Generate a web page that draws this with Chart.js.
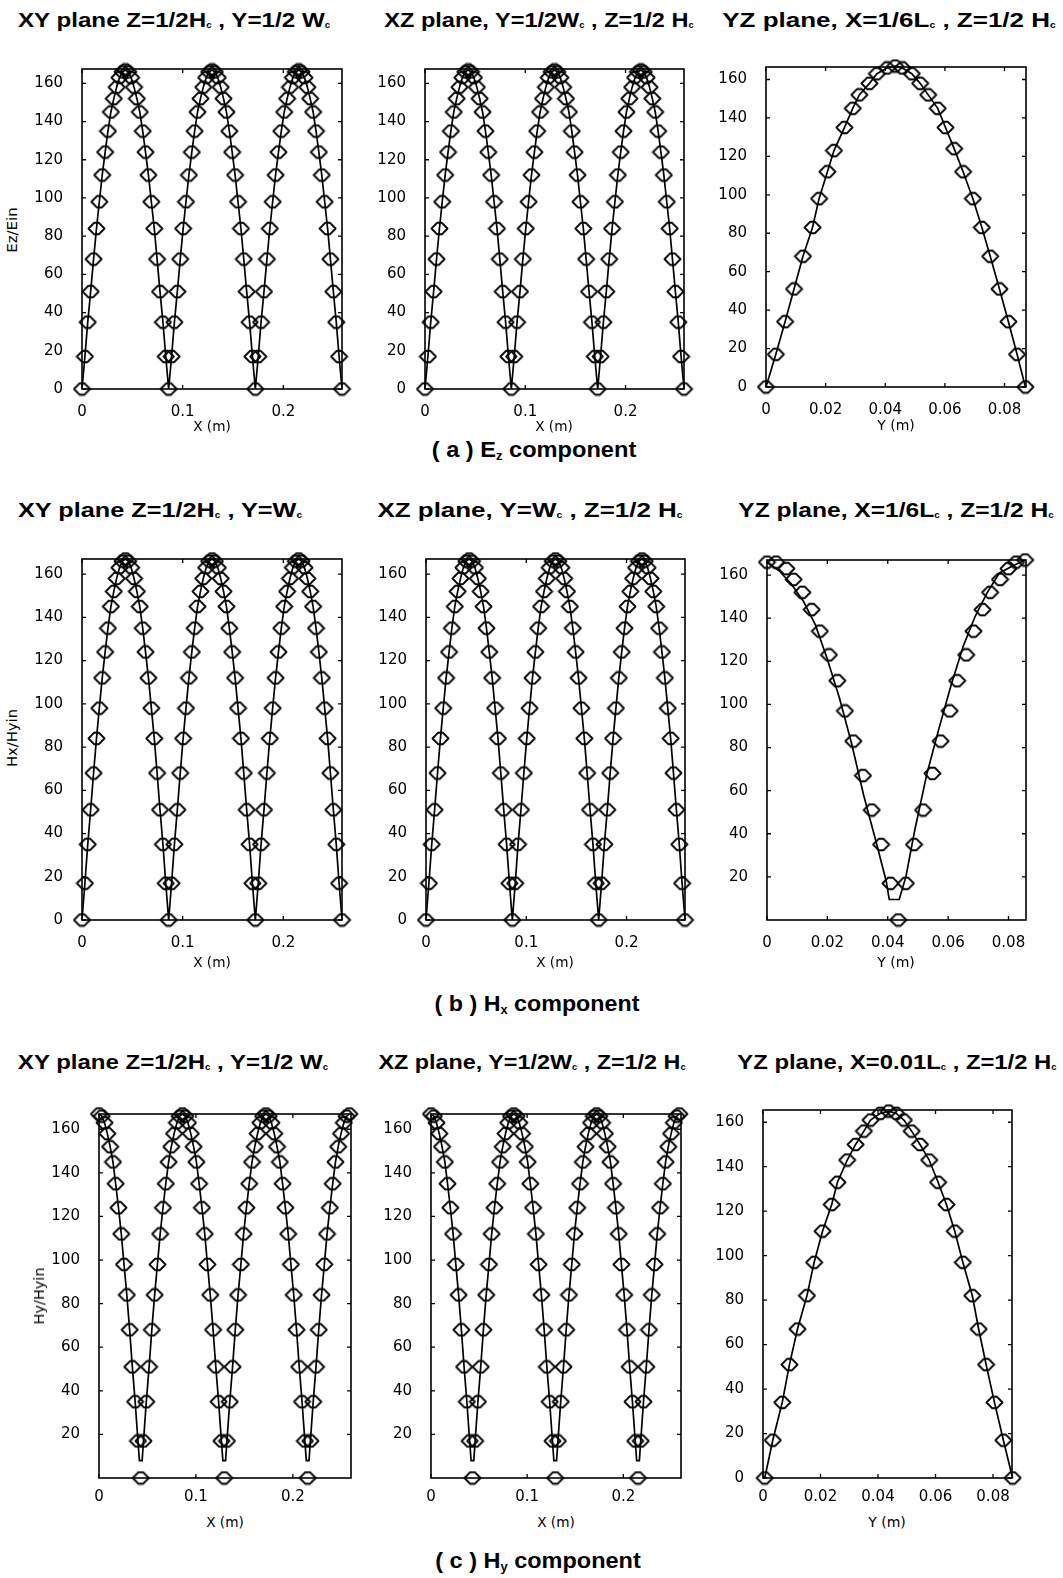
<!DOCTYPE html>
<html>
<head>
<meta charset="utf-8">
<title>Field component profiles</title>
<script src="https://cdn.jsdelivr.net/npm/chart.js@4.4.1/dist/chart.umd.min.js"></script>
<style>
  body { margin: 0; background: #fff; }
  #page { position: relative; width: 1063px; height: 1578px; overflow: hidden; background: #fff; }
  #page canvas { position: absolute; }
  .txt { position: absolute; white-space: nowrap; color: #000; line-height: 1; }
  .ttl { font: bold 21px "Liberation Sans", Arial, sans-serif; }
  .ttl sub { font-size: 40%; vertical-align: -0.15em; }
  .cap { font: bold 22px "Liberation Sans", Arial, sans-serif; }
  .cap sub { font-size: 55%; vertical-align: -0.3em; }
  .ax { font: 14px "DejaVu Sans", sans-serif; }
</style>
</head>
<body>
<div id="page"></div>
<script>
// Values (x in metres, y = normalised field)

// sample positions along X for the three-lobe XY / XZ profiles
const xGrid = [0,0.0029,0.0057,0.0086,0.0115,0.0144,0.0172,0.0201,0.0230,0.0258,
  0.0287,0.0316,0.0344,0.0373,0.0402,0.0431,0.0459,0.0488,0.0517,0.0545,
  0.0574,0.0603,0.0631,0.0660,0.0689,0.0718,0.0746,0.0775,0.0804,0.0832,
  0.0861,0.0890,0.0918,0.0947,0.0976,0.1005,0.1033,0.1062,0.1091,0.1119,
  0.1148,0.1177,0.1205,0.1234,0.1263,0.1292,0.1320,0.1349,0.1378,0.1406,
  0.1435,0.1464,0.1492,0.1521,0.1550,0.1579,0.1607,0.1636,0.1665,0.1693,
  0.1722,0.1751,0.1779,0.1808,0.1837,0.1866,0.1894,0.1923,0.1952,0.1980,
  0.2009,0.2038,0.2066,0.2095,0.2124,0.2153,0.2181,0.2210,0.2239,0.2267,
  0.2296,0.2325,0.2353,0.2382,0.2411,0.2440,0.2468,0.2497,0.2526,0.2554,0.2583];

// Ez and Hx along X (rows a and b, first two columns)
const ezY = [0,17,35,51,68,84,98,112,124,135,145,152,158,163,166,167,
  166,163,158,152,145,135,124,112,98,84,68,51,35,17,0,
  17,35,51,68,84,98,112,124,135,145,152,158,163,166,167,
  166,163,158,152,145,135,124,112,98,84,68,51,35,17,0,
  17,35,51,68,84,98,112,124,135,145,152,158,163,166,167,
  166,163,158,152,145,135,124,112,98,84,68,51,35,17,0];

// Hy along X, markers (row c, first two columns)
const hyY = [167,166,163,158,152,145,135,124,112,98,84,68,51,35,17,0,
  17,35,51,68,84,98,112,124,135,145,152,158,163,166,167,
  166,163,158,152,145,135,124,112,98,84,68,51,35,17,0,
  17,35,51,68,84,98,112,124,135,145,152,158,163,166,167,
  166,163,158,152,145,135,124,112,98,84,68,51,35,17,0,
  17,35,51,68,84,98,112,124,135,145,152,158,163,166,167];

// Hy along X, solid curve (flat floor near 8 at each minimum)
const hyLineX = [0,0.0029,0.0057,0.0086,0.0115,0.0144,0.0172,0.0201,0.0230,0.0258,
  0.0287,0.0316,0.0344,0.0373,0.0402,0.0417,0.0445,
  0.0459,0.0488,0.0517,0.0545,0.0574,0.0603,0.0631,0.0660,0.0689,0.0718,
  0.0746,0.0775,0.0804,0.0832,0.0861,0.0890,0.0918,0.0947,0.0976,0.1005,
  0.1033,0.1062,0.1091,0.1119,0.1148,0.1177,0.1205,0.1234,0.1263,0.1278,0.1306,
  0.1320,0.1349,0.1378,0.1406,0.1435,0.1464,0.1492,0.1521,0.1550,0.1579,
  0.1607,0.1636,0.1665,0.1693,0.1722,0.1751,0.1779,0.1808,0.1837,0.1866,
  0.1894,0.1923,0.1952,0.1980,0.2009,0.2038,0.2066,0.2095,0.2124,0.2139,0.2167,
  0.2181,0.2210,0.2239,0.2267,0.2296,0.2325,0.2353,0.2382,0.2411,0.2440,
  0.2468,0.2497,0.2526,0.2554,0.2583];
const hyLineY = [167,166,163,158,152,145,135,124,112,98,84,68,51,35,17,8,8,
  17,35,51,68,84,98,112,124,135,145,152,158,163,166,167,
  166,163,158,152,145,135,124,112,98,84,68,51,35,17,8,8,
  17,35,51,68,84,98,112,124,135,145,152,158,163,166,167,
  166,163,158,152,145,135,124,112,98,84,68,51,35,17,8,8,
  17,35,51,68,84,98,112,124,135,145,152,158,163,166,167];

// Ez across Y (row a, third column)
const ezYzX = [0,0.0033,0.0064,0.0094,0.0124,0.0156,0.0178,0.0206,0.0228,0.0263,
  0.0291,0.0313,0.0347,0.0372,0.0406,0.0433,0.0458,0.0489,0.0517,0.0544,
  0.0576,0.0602,0.0631,0.0661,0.0694,0.0724,0.0752,0.0783,0.0813,0.0842,0.0870];
const ezYzY = [0,17,34,51,68,83,98,112,123,135,145,152,158,163,166,167,
  166,163,158,152,145,135,124,112,98,83,68,51,34,17,0];

// Hx across Y (row b, third column): markers and solid curve
const hxYzX = [0,0.0030,0.0064,0.0088,0.0117,0.0148,0.0175,0.0205,0.0233,0.0258,
  0.0286,0.0318,0.0347,0.0378,0.0409,0.0435,0.0460,0.0487,0.0517,0.0548,
  0.0575,0.0605,0.0630,0.0660,0.0684,0.0714,0.0739,0.0772,0.0800,0.0825,0.0855];
const hxYzY = [166,166,163,158,152,144,134,123,111,97,83,67,51,35,17,0,
  17,35,51,68,83,97,111,123,134,144,152,158,163,166,167];
const hxYzLineX = [0,0.004,0.008,0.012,0.016,0.020,0.024,0.028,0.032,0.036,0.0395,0.0405,
  0.0438,0.046,0.049,0.053,0.057,0.061,0.065,0.069,0.073,0.077,0.081,0.0855];
const hxYzLineY = [166,162,156,148,137,121,103,82,58,37,18,9.5,
  9.5,20,42,68,89,109,127,141,152,161,164,167];

// Hy across Y (row c, third column)
const hyYzX = [0.0006,0.0034,0.0067,0.0092,0.0120,0.0153,0.0178,0.0207,0.0239,0.0259,
  0.0293,0.0322,0.0351,0.0374,0.0408,0.0437,0.0463,0.0490,0.0517,0.0546,
  0.0578,0.0609,0.0638,0.0667,0.0695,0.0728,0.0750,0.0776,0.0805,0.0836,0.0868];
const hyYzY = [0,17,34,51,67,82,97,111,123,133,143,150,156,161,164,165,
  164,161,156,150,143,133,123,111,97,82,67,51,34,17,0];

// tick labels
const xTicksLong = [0, 0.1, 0.2];
const xTicksShort = [0, 0.02, 0.04, 0.06, 0.08];
const yTicksAll = [0, 20, 40, 60, 80, 100, 120, 140, 160];
const yTicksNoZero = [20, 40, 60, 80, 100, 120, 140, 160];

// panel layout: plot box in page pixels [left, top, right, bottom], gap under x axis to labels
const panels = [
  { box: [82, 63, 342, 389],   xMax: 0.2583, yMax: 167.5, gap: 6, xt: xTicksLong,  yt: yTicksAll,    line: [xGrid, ezY],   marks: [xGrid, ezY] },
  { box: [425, 63, 684, 389],  xMax: 0.2583, yMax: 167.5, gap: 6, xt: xTicksLong,  yt: yTicksAll,    line: [xGrid, ezY],   marks: [xGrid, ezY] },
  { box: [766, 61, 1026, 387], xMax: 0.0872, yMax: 166.5, gap: 6, xt: xTicksShort, yt: yTicksAll,    line: [ezYzX, ezYzY], marks: [ezYzX, ezYzY] },
  { box: [82, 553, 342, 920],  xMax: 0.2583, yMax: 167,   gap: 6, xt: xTicksLong,  yt: yTicksAll,    line: [xGrid, ezY],   marks: [xGrid, ezY] },
  { box: [426, 553, 685, 920], xMax: 0.2583, yMax: 167,   gap: 6, xt: xTicksLong,  yt: yTicksAll,    line: [xGrid, ezY],   marks: [xGrid, ezY] },
  { box: [767, 554, 1026, 920],xMax: 0.0858, yMax: 167,   gap: 6, xt: xTicksShort, yt: yTicksNoZero, line: [hxYzLineX, hxYzLineY], marks: [hxYzX, hxYzY] },
  { box: [99, 1108, 351, 1478],  xMax: 0.26, yMax: 167,   gap: 2, xt: xTicksLong,  yt: yTicksNoZero, line: [hyLineX, hyLineY], marks: [xGrid, hyY] },
  { box: [431, 1108, 681, 1478], xMax: 0.26, yMax: 167,   gap: 2, xt: xTicksLong,  yt: yTicksNoZero, line: [hyLineX, hyLineY], marks: [xGrid, hyY] },
  { box: [763, 1104, 1012, 1478],xMax: 0.0866, yMax: 165.5, gap: 2, xt: xTicksShort, yt: yTicksAll,  line: [hyYzX, hyYzY], marks: [hyYzX, hyYzY] }
];

// page texts: [class, html, centre x, centre y, target width, rotated]
const texts = [
  ["ttl", "XY plane Z=1/2H<sub>c</sub> , Y=1/2 W<sub>c</sub>", 174, 20, 312],
  ["ttl", "XZ plane, Y=1/2W<sub>c</sub> , Z=1/2 H<sub>c</sub>", 539, 20, 309],
  ["ttl", "YZ plane, X=1/6L<sub>c</sub> , Z=1/2 H<sub>c</sub>", 889, 20, 334],
  ["ttl", "XY plane Z=1/2H<sub>c</sub> , Y=W<sub>c</sub>", 160, 510, 284],
  ["ttl", "XZ plane, Y=W<sub>c</sub> , Z=1/2 H<sub>c</sub>", 530, 510, 305],
  ["ttl", "YZ plane, X=1/6L<sub>c</sub> , Z=1/2 H<sub>c</sub>", 896, 510, 316],
  ["ttl", "XY plane Z=1/2H<sub>c</sub> , Y=1/2 W<sub>c</sub>", 173, 1062, 310],
  ["ttl", "XZ plane, Y=1/2W<sub>c</sub> , Z=1/2 H<sub>c</sub>", 532, 1062, 307],
  ["ttl", "YZ plane, X=0.01L<sub>c</sub> , Z=1/2 H<sub>c</sub>", 897, 1062, 319],
  ["cap", "( a ) E<sub>z</sub> component", 534, 450, 205],
  ["cap", "( b ) H<sub>x</sub> component", 537, 1004, 205],
  ["cap", "( c ) H<sub>y</sub> component", 538, 1561, 206],
  ["ax", "X (m)", 212, 426, 38], ["ax", "X (m)", 554, 426, 38], ["ax", "Y (m)", 896, 425, 38],
  ["ax", "X (m)", 212, 962, 38], ["ax", "X (m)", 555, 962, 38], ["ax", "Y (m)", 896, 962, 38],
  ["ax", "X (m)", 225, 1522, 38], ["ax", "X (m)", 556, 1522, 38], ["ax", "Y (m)", 887, 1522, 38],
  ["ax", "Ez/Ein", 12, 230, 46, true],
  ["ax", "Hx/Hyin", 12, 738, 58, true],
  ["ax", "Hy/Hyin", 39, 1296, 57, true]
];

function el(id) { return document.getElementById(id); }

function pts(xs, ys) { return xs.map((x, i) => ({ x: x, y: ys[i] })); }

// hollow marker: pointed left/right, blunt top and bottom
function diamond() {
  const c = document.createElement("canvas");
  c.width = 19; c.height = 15;
  const g = c.getContext("2d");
  g.strokeStyle = "#000";
  g.lineWidth = 1.9;
  g.lineJoin = "round";
  g.beginPath();
  g.moveTo(1.5, 7.5); g.lineTo(7, 1.8); g.lineTo(12, 1.8); g.lineTo(17.5, 7.5);
  g.lineTo(12, 13.2); g.lineTo(7, 13.2); g.closePath();
  g.stroke();
  return c;
}

// box round the plot area with inward ticks on all four sides
const frame = {
  id: "frame",
  beforeDatasetsDraw(chart) {
    const { ctx, chartArea: a, scales: { x, y } } = chart;
    ctx.save();
    ctx.strokeStyle = "#000";
    ctx.lineWidth = 1.6;
    ctx.strokeRect(a.left, a.top, a.right - a.left, a.bottom - a.top);
    ctx.lineWidth = 1.3;
    ctx.beginPath();
    x.ticks.forEach(t => {
      const px = x.getPixelForValue(t.value);
      ctx.moveTo(px, a.bottom); ctx.lineTo(px, a.bottom - 4);
      ctx.moveTo(px, a.top); ctx.lineTo(px, a.top + 4);
    });
    y.ticks.forEach(t => {
      const py = y.getPixelForValue(t.value);
      ctx.moveTo(a.left, py); ctx.lineTo(a.left + 4, py);
      ctx.moveTo(a.right, py); ctx.lineTo(a.right - 4, py);
    });
    ctx.stroke();
    ctx.restore();
  }
};

const PAD_L = 62, PAD_T = 14, PAD_R = 16, PAD_B = 36;
const marker = diamond();
const tickFont = { family: "DejaVu Sans", size: 15 };

function makePanel(p) {
  const [l, t, r, b] = p.box;
  const cv = document.createElement("canvas");
  cv.width = r - l + PAD_L + PAD_R;
  cv.height = b - t + PAD_T + PAD_B;
  cv.style.left = (l - PAD_L) + "px";
  cv.style.top = (t - PAD_T) + "px";
  el("page").appendChild(cv);

  new Chart(cv, {
    type: "scatter",
    data: {
      datasets: [
        { data: pts(p.line[0], p.line[1]), showLine: true, borderColor: "#000", borderWidth: 1.7,
          pointRadius: 0, clip: false },
        { data: pts(p.marks[0], p.marks[1]), showLine: false, pointStyle: marker, pointRadius: 8,
          borderColor: "#000", clip: false }
      ]
    },
    options: {
      responsive: false,
      animation: false,
      events: [],
      layout: { padding: { top: PAD_T, right: PAD_R, left: 0, bottom: 0 } },
      plugins: { legend: { display: false }, tooltip: { enabled: false } },
      scales: {
        x: {
          type: "linear", min: 0, max: p.xMax,
          grid: { display: false }, border: { display: false },
          afterBuildTicks: s => { s.ticks = p.xt.map(v => ({ value: v })); },
          afterFit: s => { s.height = PAD_B; },
          ticks: { color: "#000", font: tickFont, padding: p.gap, maxRotation: 0, autoSkip: false,
                   callback: v => String(v) }
        },
        y: {
          type: "linear", min: 0, max: p.yMax,
          grid: { display: false }, border: { display: false },
          afterBuildTicks: s => { s.ticks = p.yt.map(v => ({ value: v })); },
          afterFit: s => { s.width = PAD_L; },
          ticks: { color: "#000", font: tickFont, padding: 11, autoSkip: false,
                   callback: v => String(v) }
        }
      }
    },
    plugins: [frame]
  });
}

// place a text centred on (cx, cy), stretched to the measured width
function placeText(t) {
  const [cls, html, cx, cy, w, rot] = t;
  const d = document.createElement("div");
  d.className = "txt " + cls;
  d.innerHTML = html;
  d.style.left = cx + "px";
  d.style.top = cy + "px";
  el("page").appendChild(d);
  const k = w / d.offsetWidth;
  d.style.transform = "translate(-50%,-50%)" + (rot ? " rotate(-90deg)" : "") + " scaleX(" + k.toFixed(3) + ")";
}

panels.forEach(makePanel);
texts.forEach(placeText);
</script>
</body>
</html>
